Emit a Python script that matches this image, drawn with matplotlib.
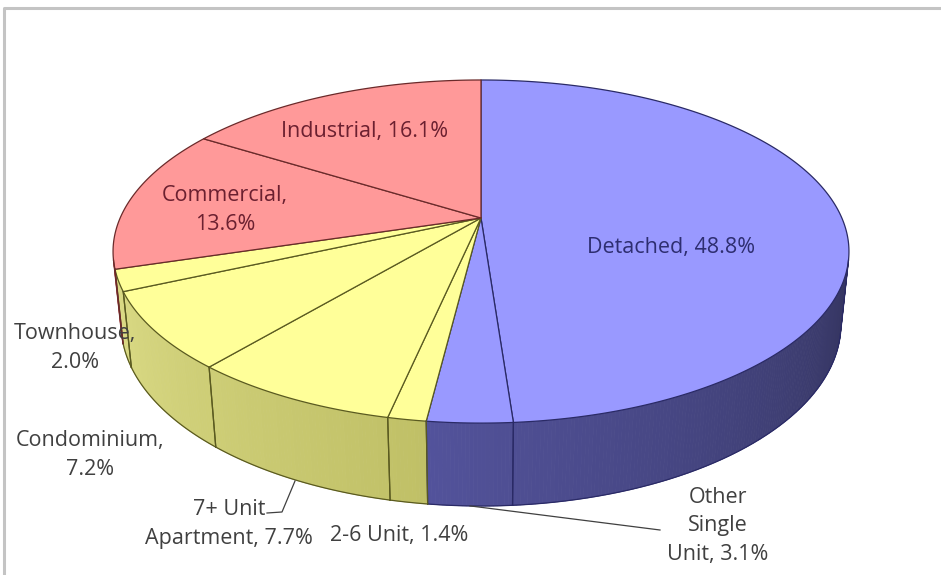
import numpy as np
import matplotlib
matplotlib.use("Agg")
import matplotlib.pyplot as plt
from matplotlib.patches import Polygon

# ---------------- data ----------------
categories = ["Detached", "Other Single Unit", "2-6 Unit", "7+ Unit Apartment",
              "Condominium", "Townhouse", "Commercial", "Industrial"]
values = [48.8, 3.1, 1.4, 7.7, 7.2, 2.0, 13.6, 16.1]
label_texts = ["Detached, 48.8%", "Other\nSingle\nUnit, 3.1%", "2-6 Unit, 1.4%",
               "7+ Unit\nApartment, 7.7%", "Condominium,\n7.2%", "Townhouse,\n2.0%",
               "Commercial,\n13.6%", "Industrial, 16.1%"]
groups = ["single", "single", "multi", "multi", "multi", "multi", "nonres", "nonres"]

# ---------------- styles ----------------
top_colors = {"single": "#9999FF", "multi": "#FFFF99", "nonres": "#FF9999"}
edge_colors = {"single": "#2A2A66", "multi": "#5A5A20", "nonres": "#6A2A2A"}
# wall colour at theta=104 deg and theta=256 deg (rgb 0-255)
wall_grad = {"single": ((52, 52, 95), (108, 108, 205)),
             "multi": ((158, 158, 63), (220, 220, 135)),
             "nonres": ((170, 90, 90), (225, 130, 130))}
label_colors = {"Detached": "#2E2E70", "Commercial": "#6B2030", "Industrial": "#6B2030"}
label_pos = {"Detached": (671, 248), "Other Single Unit": (718, 526),
             "2-6 Unit": (399, 535), "7+ Unit Apartment": (229, 524),
             "Condominium": (90, 455), "Townhouse": (75, 348),
             "Commercial": (225, 210), "Industrial": (365, 132)}

# projection parameters (pixel space)
CX, CY = 481.0, 218.0
FX, FY = 1652.0, 1694.0
SA, CA = 0.4459, 0.895
DIST = 4.578
H = 0.22
W_PX, H_PX = 941, 575


def proj(theta_deg, r, z):
    th = np.radians(theta_deg)
    X = r * np.sin(th)
    Y = r * np.cos(th)
    d = DIST + Y * CA - z * SA
    return CX + FX * X / d, CY - FY * (Y * SA + z * CA) / d


fig = plt.figure(figsize=(W_PX / 100, H_PX / 100), dpi=100)
ax = fig.add_axes([0, 0, 1, 1])
ax.set_xlim(0, W_PX)
ax.set_ylim(H_PX, 0)
ax.axis("off")

# chart border (partially visible)
ax.plot([4, 4, W_PX + 5], [H_PX + 5, 8, 8], color="#C4C4C4", lw=2.2, solid_capstyle="butt")

total = float(sum(values))
bounds = np.concatenate([[0], np.cumsum(values)]) / total * 360.0
vis_lo = np.degrees(np.arccos(-1.0 / (DIST * CA)))
vis_hi = 360.0 - vis_lo


def wall_color(g, th):
    a, b = wall_grad[g]
    t = (th - vis_lo) / (vis_hi - vis_lo)
    return tuple((a[i] + (b[i] - a[i]) * t) / 255.0 for i in range(3))


# walls
for i, g in enumerate(groups):
    a0 = max(bounds[i], vis_lo)
    a1 = min(bounds[i + 1], vis_hi)
    if a1 <= a0:
        continue
    n = max(2, int((a1 - a0) * 2))
    ths = np.linspace(a0, a1, n + 1)
    for k in range(n):
        t0, t1 = ths[k], ths[k + 1]
        xa, ya = proj(np.array([t0, t1]), 1.0, 0.0)
        xb, yb = proj(np.array([t1, t0]), 1.0, -H)
        col = wall_color(g, 0.5 * (t0 + t1))
        ax.add_patch(Polygon(np.column_stack([np.r_[xa, xb], np.r_[ya, yb]]),
                             closed=True, facecolor=col, edgecolor=col, lw=0.6))
    # outline
    xbm, ybm = proj(ths, 1.0, -H)
    ec = edge_colors[g]
    ax.plot(xbm, ybm, color=ec, lw=0.9)
    for t in (a0, a1):
        x0, y0 = proj(t, 1.0, 0.0)
        x1, y1 = proj(t, 1.0, -H)
        ax.plot([x0, x1], [y0, y1], color=ec, lw=0.9)

# top faces
for i, g in enumerate(groups):
    ths = np.linspace(bounds[i], bounds[i + 1], max(3, int(values[i] * 8)))
    xt, yt = proj(ths, 1.0, 0.0)
    pts = np.column_stack([np.r_[CX, xt], np.r_[CY, yt]])
    ax.add_patch(Polygon(pts, closed=True, facecolor=top_colors[g],
                         edgecolor=edge_colors[g], lw=0.9, joinstyle="round"))

# labels
font = ["Open Sans", "DejaVu Sans"]
for i, c in enumerate(categories):
    x, y = label_pos[c]
    ax.text(x, y, label_texts[i], ha="center", va="center", fontsize=15.5,
            family=font, color=label_colors.get(c, "#404040"), linespacing=1.45)

# leader lines
ax.plot([267, 282, 295], [513, 512, 481], color="#404040", lw=0.9)
xo, yo = proj(0.5 * (bounds[1] + bounds[2]), 1.0, -H)
ax.plot([xo, 660], [yo, 530], color="#404040", lw=0.9)

fig.savefig("out.png", dpi=100)
